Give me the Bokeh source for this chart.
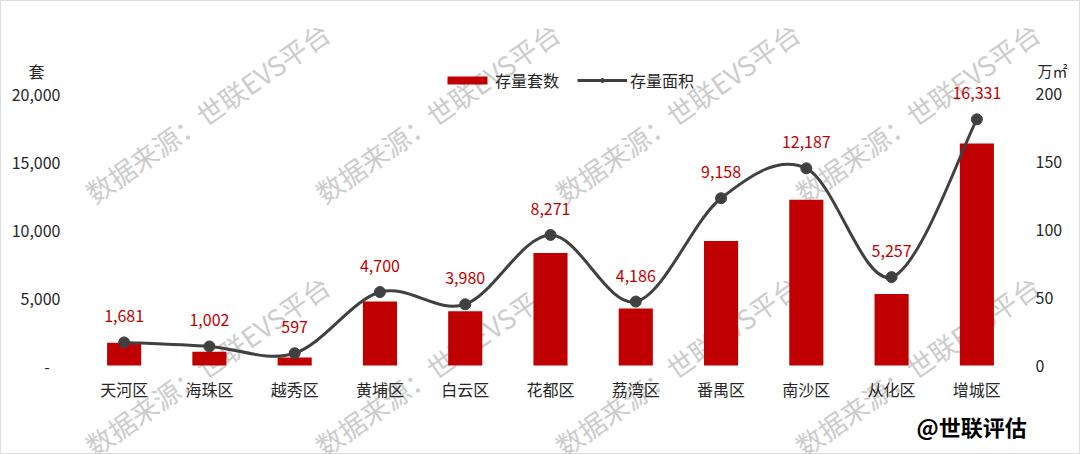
import numpy as np
from bokeh.plotting import figure
from bokeh.models import (Range1d, LinearAxis, FixedTicker, Legend, LegendItem, Label)
from bokeh.core.properties import value
from bokeh.embed import file_html
from bokeh.resources import INLINE

# ---------------- data ----------------
districts = ["天河区", "海珠区", "越秀区", "黄埔区", "白云区", "花都区",
             "荔湾区", "番禺区", "南沙区", "从化区", "增城区"]
stock_units = [1681, 1002, 597, 4700, 3980, 8271, 4186, 9158, 12187, 5257, 16331]
stock_area = [17, 14, 9, 54, 45, 96, 47, 123, 145, 65, 181]
left_ticks = [0, 5000, 10000, 15000, 20000]
left_tick_labels = ["-\u00a0\u00a0\u00a0", "5,000", "10,000", "15,000", "20,000"]
right_ticks = [0, 50, 100, 150, 200]
right_tick_labels = ["0", "50", "100", "150", "200"]
left_unit = "套"
right_unit = "万㎡"
series_names = ["存量套数", "存量面积"]
watermark_text = "数据来源：世联EVS平台"
brand_text = "@世联评估"

# ---------------- style / layout ----------------
FONT = "Noto Sans CJK SC"
RED = "#C00000"
GREY = "#404040"
TXT = "#262626"
W, H = 1080, 454
OX, OY = 0, 0                      # page offset of the canvas
# plot area of the chart (page px)
PA_L, PA_R, PA_TOP, PA_BOT = 81, 1019, 93, 365
n_cat = len(districts)
ppx = (PA_R - PA_L) / n_cat        # px per category
x_start = 0.5 - (PA_L - OX) / ppx
x_end = n_cat + 0.5 + (OX + W - PA_R) / ppx
lpp = left_ticks[-1] / (PA_BOT - PA_TOP)
rpp = right_ticks[-1] / (PA_BOT - PA_TOP)
y_start = -(OY + H - PA_BOT) * lpp
y_end = left_ticks[-1] + (PA_TOP - OY) * lpp
r_start = -(OY + H - PA_BOT) * rpp
r_end = right_ticks[-1] + (PA_TOP - OY) * rpp


def sx(px):
    return px - OX


def sy(py):
    return OY + H - py


xs = list(range(1, n_cat + 1))

p = figure(width=W, height=H, output_backend="svg", toolbar_location=None,
           x_range=Range1d(x_start, x_end), y_range=Range1d(y_start, y_end),
           min_border=0, min_border_left=0, min_border_right=0,
           min_border_top=0, min_border_bottom=0)
p.extra_y_ranges = {"area": Range1d(r_start, r_end)}
p.outline_line_color = "#dcdcdc"
p.xgrid.visible = False
p.ygrid.visible = False
p.background_fill_color = "white"
p.border_fill_color = "white"

# watermarks (behind everything)
wm_x = [88, 318, 558, 798]
wm_y = [195, 448]
for py in wm_y:
    for px in wm_x:
        p.add_layout(Label(x=sx(px), y=sy(py), x_units="screen", y_units="screen",
                           text=watermark_text, angle=0.61,
                           text_font=FONT, text_font_size="27px",
                           text_color="#cccccc", text_baseline="alphabetic",
                           text_align="left", level="underlay"))

# x axis (labels drawn inside the canvas)
p.xaxis.ticker = FixedTicker(ticks=xs)
p.xaxis.major_label_overrides = {x: d for x, d in zip(xs, districts)}
p.xaxis.axis_line_color = None
p.xaxis.major_tick_line_color = None
p.xaxis.minor_tick_line_color = None
p.xaxis.major_tick_out = 0
p.xaxis.major_tick_in = 0
p.xaxis.major_label_standoff = -(OY + H - 376)
p.xaxis.major_label_text_font = FONT
p.xaxis.major_label_text_font_size = "16px"
p.xaxis.major_label_text_color = TXT

# left axis
p.yaxis.ticker = FixedTicker(ticks=left_ticks)
p.yaxis.major_label_overrides = {t: s for t, s in zip(left_ticks, left_tick_labels)}
p.yaxis.axis_line_color = None
p.yaxis.major_tick_line_color = None
p.yaxis.minor_tick_line_color = None
p.yaxis.major_tick_out = 0
p.yaxis.major_tick_in = 0
p.yaxis.major_label_standoff = -(60 - OX)
p.yaxis.major_label_text_font = FONT
p.yaxis.major_label_text_font_size = "16px"
p.yaxis.major_label_text_color = TXT

# right axis
ax_r = LinearAxis(y_range_name="area", ticker=FixedTicker(ticks=right_ticks))
ax_r.major_label_overrides = {t: s for t, s in zip(right_ticks, right_tick_labels)}
ax_r.axis_line_color = None
ax_r.major_tick_line_color = None
ax_r.minor_tick_line_color = None
ax_r.major_tick_out = 0
ax_r.major_tick_in = 0
ax_r.major_label_standoff = -(OX + W - 1035)
ax_r.major_label_text_font = FONT
ax_r.major_label_text_font_size = "16px"
ax_r.major_label_text_color = TXT
p.add_layout(ax_r, "right")

# bars
bars = p.vbar(x=xs, top=stock_units, width=0.4, fill_color=RED, line_color=None)

# smoothed line (Bezier through the points, Catmull-Rom style control points)
xa = np.array(xs, dtype=float)
ya = np.array(stock_area, dtype=float)
xp = np.concatenate([[xa[0]], xa, [xa[-1]]])
yp = np.concatenate([[ya[0]], ya, [ya[-1]]])
n = len(xa)
x0, y0 = xa[:-1], ya[:-1]
x1, y1 = xa[1:], ya[1:]
cx0 = x0 + (xp[2:n + 1] - xp[0:n - 1]) / 6.0
cy0 = y0 + (yp[2:n + 1] - yp[0:n - 1]) / 6.0
cx1 = x1 - (xp[3:n + 2] - xp[1:n]) / 6.0
cy1 = y1 - (yp[3:n + 2] - yp[1:n]) / 6.0
bez = p.bezier(x0=x0, y0=y0, x1=x1, y1=y1, cx0=cx0, cy0=cy0, cx1=cx1, cy1=cy1,
               line_color=GREY, line_width=3, y_range_name="area")
dots = p.scatter(x=xs, y=stock_area, size=11, fill_color=GREY, line_color=GREY,
                 y_range_name="area")

# data labels (bar values, placed above the line markers)
p.text(x=xs, y=stock_area, text=[f"{v:,}" for v in stock_units], y_range_name="area",
       y_offset=-26, text_align="center", text_baseline="middle",
       text_color=RED, text_font=value(FONT), text_font_size="16px")

# unit labels and brand
p.add_layout(Label(x=sx(36), y=sy(70), x_units="screen", y_units="screen",
                   text=left_unit, text_align="center", text_baseline="middle",
                   text_font=FONT, text_font_size="16px", text_color=TXT))
p.add_layout(Label(x=sx(1052), y=sy(70), x_units="screen", y_units="screen",
                   text=right_unit, text_align="center", text_baseline="middle",
                   text_font=FONT, text_font_size="15px", text_color=TXT))
p.add_layout(Label(x=sx(916), y=sy(425), x_units="screen", y_units="screen",
                   text=brand_text, text_align="left", text_baseline="middle",
                   text_font=FONT, text_font_size="22px", text_font_style="bold",
                   text_color="black"))

legend = Legend(items=[LegendItem(label=series_names[0], renderers=[bars]),
                       LegendItem(label=series_names[1], renderers=[bez, dots])],
                orientation="horizontal", location=(sx(442), sy(92)),
                border_line_color=None, background_fill_alpha=0,
                padding=0, margin=0, spacing=18,
                glyph_width=50, glyph_height=10, label_standoff=3,
                label_text_font=FONT, label_text_font_size="16px",
                label_text_color=TXT)
p.add_layout(legend)

open("out.html", "w").write(file_html(p, INLINE))
